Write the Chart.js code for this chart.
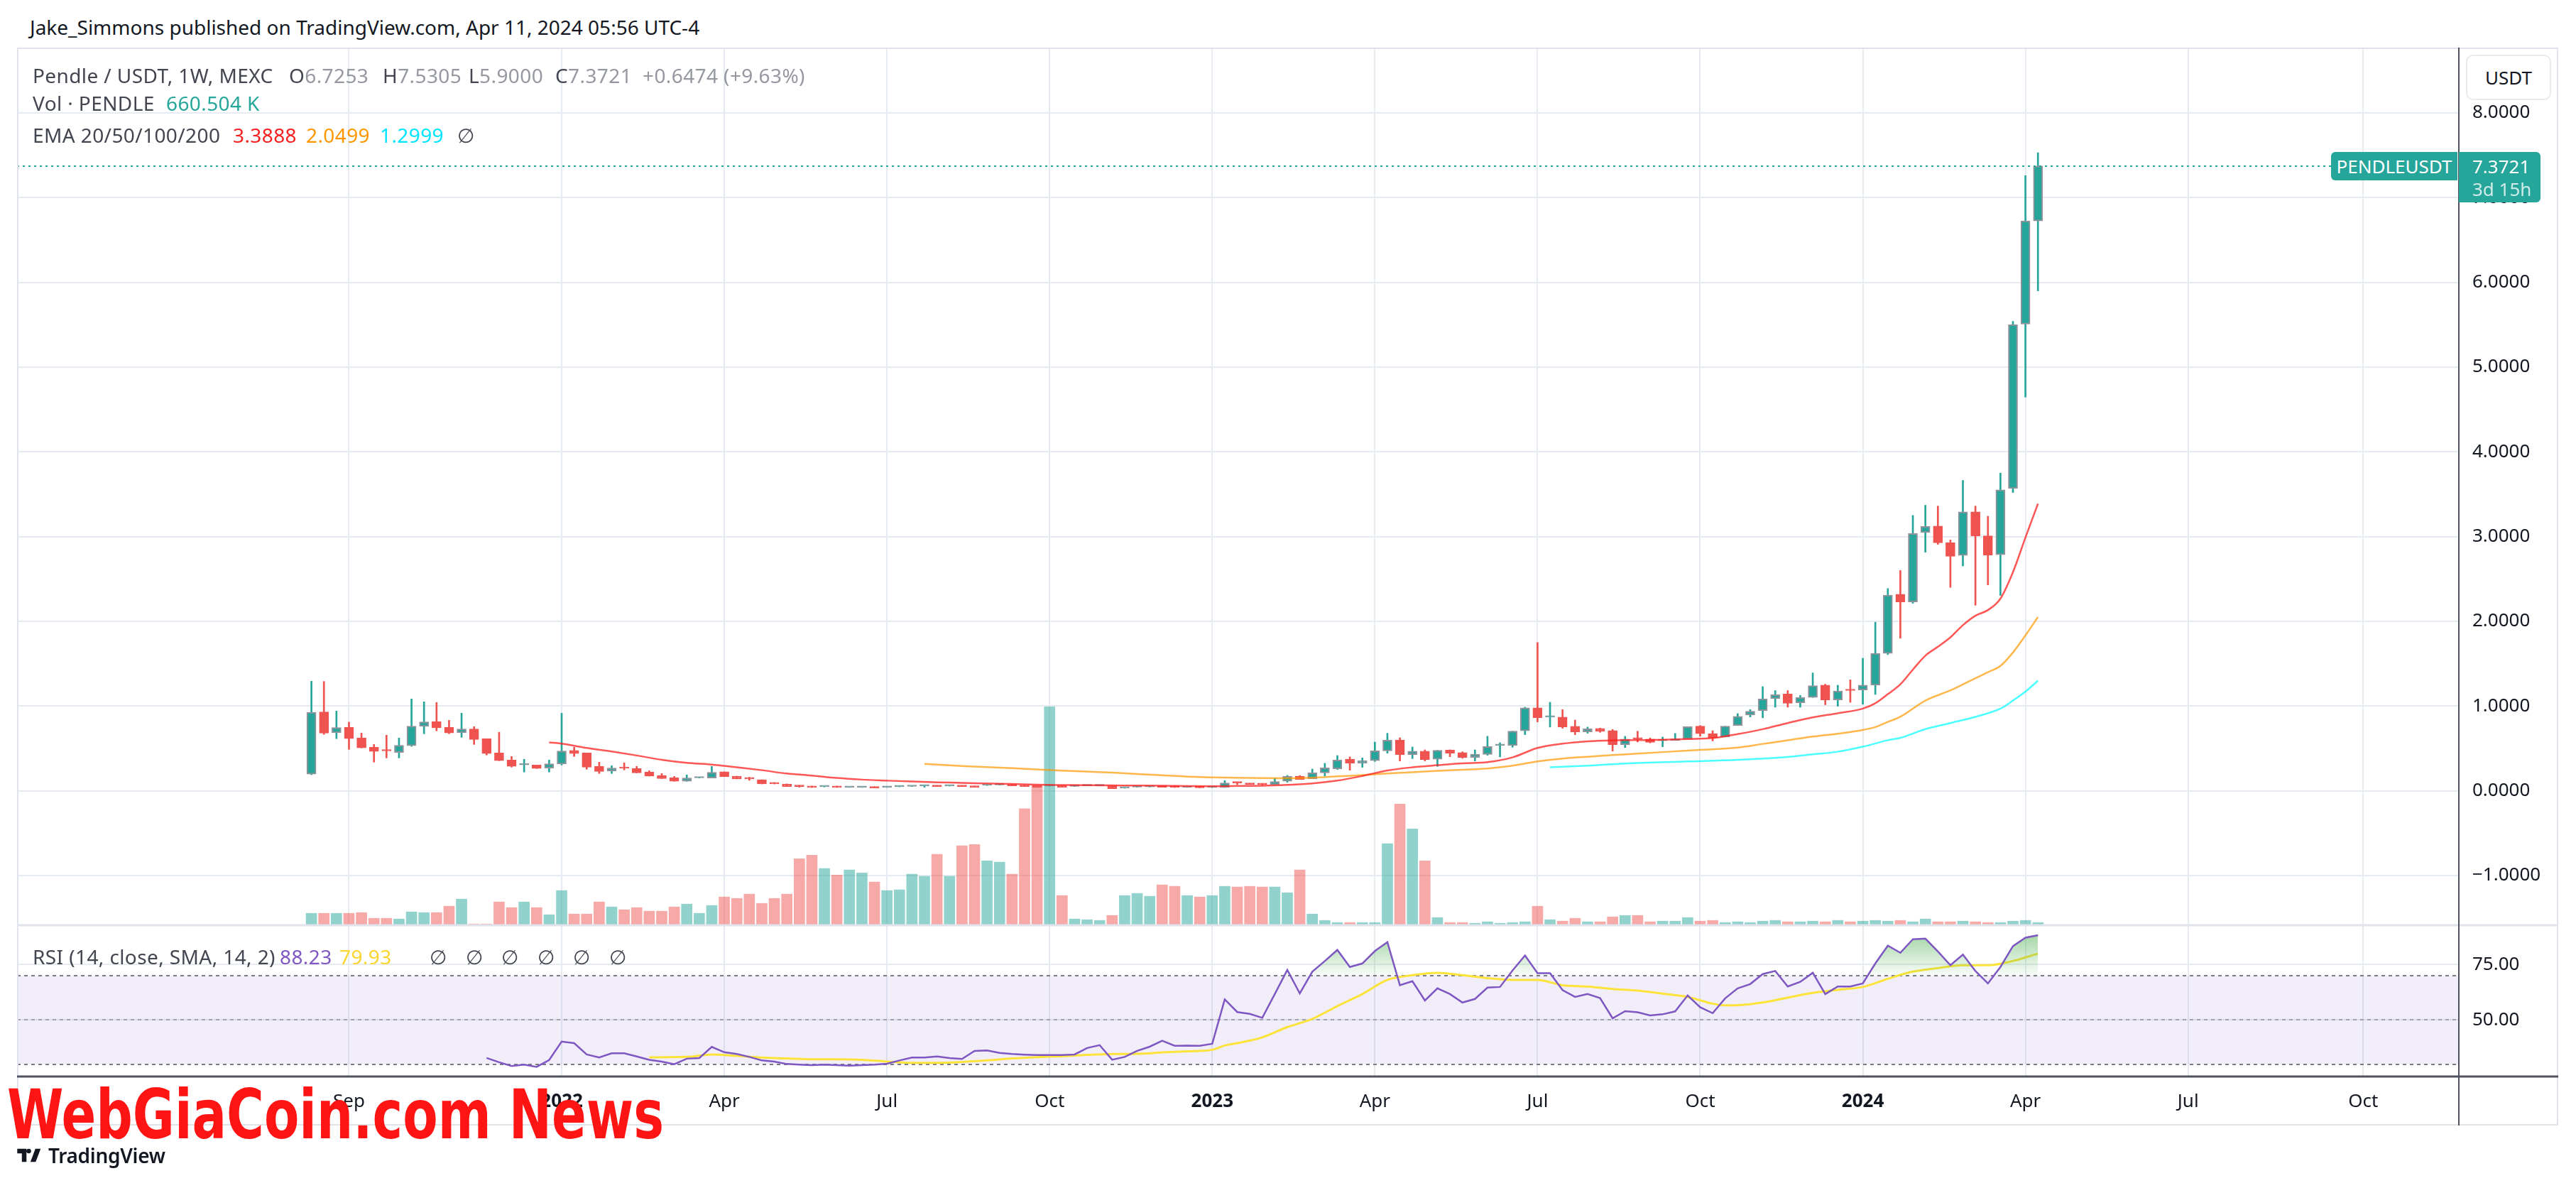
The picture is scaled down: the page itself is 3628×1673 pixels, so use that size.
<!DOCTYPE html>
<html lang="en">
<head>
  <meta charset="UTF-8" />
  <title>Pendle / USDT, 1W, MEXC</title>
  <script src="https://cdn.jsdelivr.net/npm/chart.js@4.4.0/dist/chart.umd.min.js"></script>
  <style>
    body { margin: 0; width: 3628px; height: 1673px; background: #fff; position: relative; overflow: hidden;
           font-family: "Noto Sans", sans-serif; color: #131722; }
    #frame { position: absolute; left: 24px; top: 67px; width: 3579px; height: 1518px; }
    #header { position: absolute; left: 42px; top: 20px; height: 36px; line-height: 36px; font-size: 28px; color: #131722; white-space: pre; }
    .lg { position: absolute; left: 46px; width: 1200px; height: 38px; line-height: 38px; font-size: 28px; letter-spacing: 0.4px;
          color: #434651; white-space: pre; z-index: 5; }
    .lg > span { position: absolute; top: 0; }
    .lg .v { color: #9598a1; }
    #usdt { position: absolute; left: 3473px; top: 77px; width: 116px; height: 60px; border: 2px solid #e8eaf0; border-radius: 10px;
            font-size: 26px; line-height: 60px; text-align: center; color: #131722; background: #fff; z-index: 5; }
    #symLabel { position: absolute; left: 3283px; width: 178px; height: 40px; line-height: 40px; background: #26a69a; color: #fff;
                font-size: 26px; text-align: center; border-radius: 6px 0 0 6px; z-index: 5; }
    #priceLabel { position: absolute; left: 3463px; width: 115px; height: 71px; background: #26a69a; color: #fff;
                  font-size: 26px; border-radius: 0 6px 6px 0; z-index: 5; }
    #priceLabel div { position: absolute; left: 19px; height: 32px; line-height: 32px; }
    #priceLabel .sub { color: rgba(255,255,255,0.78); }
    #watermark { position: absolute; left: 10px; top: 1522px; font-family: "Liberation Sans Narrow", "DejaVu Sans Condensed", sans-serif;
                 font-weight: bold; font-size: 96px; line-height: 1; color: #ff1414; white-space: pre; z-index: 6; transform-origin: left top; }
    #tvlogo { position: absolute; left: 22px; top: 1610px; height: 34px; display: flex; align-items: center; z-index: 6; }
    #tvlogo span { font-size: 28px; font-weight: 600; color: #131722; margin-left: 8px; letter-spacing: -0.3px; }
  </style>
</head>
<body>
  <div id="header">Jake_Simmons published on TradingView.com, Apr 11, 2024 05:56 UTC-4</div>
  <div id="frame"><canvas id="chart" width="3579" height="1518"></canvas></div>

  <div class="lg" style="top:87px">
    <span style="left:0">Pendle / USDT, 1W, MEXC</span>
    <span style="left:361px">O<span class="v">6.7253</span></span>
    <span style="left:493px">H<span class="v">7.5305</span></span>
    <span style="left:614px">L<span class="v">5.9000</span></span>
    <span style="left:736px">C<span class="v">7.3721</span></span>
    <span style="left:859px"><span class="v">+0.6474 (+9.63%)</span></span>
  </div>
  <div class="lg" style="top:126px">
    <span style="left:0">Vol · PENDLE</span>
    <span style="left:188px; color:#26a69a">660.504 K</span>
  </div>
  <div class="lg" style="top:171px">
    <span style="left:0">EMA 20/50/100/200</span>
    <span style="left:282px; color:#f72020">3.3888</span>
    <span style="left:385px; color:#ff9800">2.0499</span>
    <span style="left:489px; color:#00e5ff">1.2999</span>
    <span style="left:598px">∅</span>
  </div>
  <div class="lg" style="top:1328px">
    <span style="left:0">RSI (14, close, SMA, 14, 2)</span>
    <span style="left:348px; color:#7e57c2">88.23</span>
    <span style="left:432px; color:#fbd52f">79.93</span>
    <span style="left:559px">∅</span>
    <span style="left:610px">∅</span>
    <span style="left:660px">∅</span>
    <span style="left:711px">∅</span>
    <span style="left:761px">∅</span>
    <span style="left:812px">∅</span>
  </div>

  <div id="usdt">USDT</div>
  <div id="symLabel">PENDLEUSDT</div>
  <div id="priceLabel"><div style="top:4px">7.3721</div><div class="sub" style="top:36px">3d 15h</div></div>

  <div id="watermark">WebGiaCoin.com News</div>
  <div id="tvlogo">
    <svg width="38" height="26" viewBox="0 0 36 28"><path d="M14 24H7V11H0V4h14v20zM28 24h-8l7.5-20h8L28 24zM21 7.5a3.5 3.5 0 1 1-7 0 3.5 3.5 0 0 1 7 0z" fill="#131722"/></svg>
    <span>TradingView</span>
  </div>

  <script>
    // weekly candles, first bar = week of 2021-08-16
    const firstWeek = '2021-08-16';

    const opens = [
      0.196, 0.93, 0.684, 0.749, 0.623, 0.514, 0.48, 0.453, 0.531, 0.76,
      0.816, 0.749, 0.684, 0.729, 0.615, 0.447, 0.363, 0.305, 0.304, 0.268,
      0.316, 0.475, 0.447, 0.288, 0.232, 0.279, 0.263, 0.221, 0.179, 0.154,
      0.112, 0.152, 0.151, 0.224, 0.173, 0.156, 0.131, 0.098, 0.081, 0.064,
      0.056, 0.048, 0.056, 0.041, 0.041, 0.047, 0.041, 0.048, 0.051, 0.056,
      0.061, 0.057, 0.061, 0.056, 0.064, 0.069, 0.076, 0.064, 0.061, 0.057,
      0.061, 0.052, 0.059, 0.059, 0.059, 0.032, 0.043, 0.046, 0.056, 0.056,
      0.041, 0.053, 0.040, 0.040, 0.100, 0.087, 0.087, 0.070, 0.112, 0.173,
      0.142, 0.212, 0.260, 0.374, 0.327, 0.355, 0.472, 0.600, 0.427, 0.467,
      0.372, 0.483, 0.450, 0.394, 0.430, 0.535, 0.534, 0.707, 0.978, 0.870,
      0.869, 0.760, 0.696, 0.735, 0.710, 0.545, 0.623, 0.611, 0.590, 0.595,
      0.611, 0.762, 0.675, 0.635, 0.770, 0.894, 0.946, 1.087, 1.142, 1.039,
      1.102, 1.246, 1.073, 1.194, 1.189, 1.246, 1.621, 2.320, 2.228, 3.047,
      3.124, 2.927, 2.777, 3.292, 3.008, 2.787, 3.567, 5.507, 6.7253
    ];
    const highs = [
      1.293, 1.29, 0.941, 0.81, 0.682, 0.547, 0.656, 0.623, 1.084, 1.05,
      1.042, 0.832, 0.916, 0.757, 0.615, 0.691, 0.405, 0.372, 0.304, 0.363,
      0.916, 0.514, 0.447, 0.338, 0.296, 0.33, 0.288, 0.237, 0.204, 0.17,
      0.187, 0.156, 0.288, 0.224, 0.173, 0.16, 0.131, 0.098, 0.081, 0.064,
      0.056, 0.052, 0.056, 0.044, 0.044, 0.047, 0.044, 0.051, 0.054, 0.06,
      0.061, 0.059, 0.061, 0.056, 0.067, 0.072, 0.076, 0.064, 0.061, 0.06,
      0.061, 0.055, 0.062, 0.062, 0.059, 0.035, 0.05, 0.048, 0.056, 0.056,
      0.044, 0.053, 0.044, 0.12, 0.10, 0.087, 0.087, 0.148, 0.182, 0.18,
      0.257, 0.324, 0.416, 0.40, 0.388, 0.575, 0.679, 0.626, 0.517, 0.483,
      0.478, 0.483, 0.46, 0.483, 0.643, 0.567, 0.704, 0.986, 1.749, 1.045,
      0.958, 0.835, 0.752, 0.74, 0.724, 0.643, 0.703, 0.623, 0.634, 0.677,
      0.756, 0.77, 0.709, 0.762, 0.911, 0.958, 1.229, 1.182, 1.182, 1.125,
      1.391, 1.258, 1.246, 1.31, 1.564, 1.99, 2.387, 2.6, 3.25, 3.37,
      3.36, 2.96, 3.663, 3.36, 3.24, 3.75, 5.54, 7.259, 7.5305
    ];
    const lows = [
      0.19, 0.665, 0.615, 0.489, 0.506, 0.338, 0.388, 0.388, 0.525, 0.673,
      0.707, 0.673, 0.631, 0.547, 0.422, 0.355, 0.279, 0.221, 0.263, 0.221,
      0.304, 0.405, 0.254, 0.204, 0.204, 0.246, 0.212, 0.173, 0.145, 0.112,
      0.112, 0.150, 0.151, 0.168, 0.14, 0.123, 0.081, 0.081, 0.05, 0.042,
      0.039, 0.045, 0.039, 0.040, 0.040, 0.034, 0.040, 0.047, 0.05, 0.042,
      0.05, 0.056, 0.05, 0.042, 0.062, 0.068, 0.059, 0.05, 0.042, 0.055,
      0.042, 0.05, 0.058, 0.058, 0.025, 0.031, 0.042, 0.045, 0.042, 0.039,
      0.040, 0.036, 0.039, 0.04, 0.073, 0.076, 0.068, 0.07, 0.10, 0.134,
      0.142, 0.176, 0.251, 0.243, 0.277, 0.346, 0.444, 0.352, 0.38, 0.352,
      0.288, 0.402, 0.383, 0.352, 0.419, 0.40, 0.514, 0.662, 0.813, 0.752,
      0.738, 0.662, 0.679, 0.69, 0.469, 0.511, 0.576, 0.565, 0.52, 0.595,
      0.611, 0.644, 0.588, 0.635, 0.77, 0.871, 0.861, 0.986, 0.986, 0.986,
      1.102, 1.015, 0.998, 1.044, 1.021, 1.137, 1.607, 1.8, 2.213, 2.816,
      2.908, 2.40, 2.653, 2.19, 2.43, 2.306, 3.52, 4.646, 5.9
    ];
    const closes = [
      0.927, 0.68, 0.746, 0.615, 0.506, 0.464, 0.47, 0.536, 0.763, 0.813,
      0.743, 0.682, 0.729, 0.606, 0.439, 0.355, 0.288, 0.31, 0.263, 0.318,
      0.469, 0.439, 0.279, 0.229, 0.268, 0.265, 0.212, 0.173, 0.145, 0.112,
      0.151, 0.154, 0.218, 0.168, 0.14, 0.14, 0.081, 0.081, 0.05, 0.05,
      0.039, 0.05, 0.039, 0.042, 0.042, 0.034, 0.042, 0.05, 0.053, 0.059,
      0.05, 0.059, 0.05, 0.042, 0.065, 0.07, 0.059, 0.05, 0.042, 0.059,
      0.042, 0.053, 0.061, 0.061, 0.025, 0.034, 0.045, 0.047, 0.042, 0.039,
      0.042, 0.036, 0.042, 0.093, 0.092, 0.076, 0.073, 0.109, 0.17, 0.134,
      0.212, 0.271, 0.363, 0.327, 0.355, 0.472, 0.598, 0.427, 0.467, 0.369,
      0.478, 0.444, 0.394, 0.433, 0.522, 0.537, 0.704, 0.978, 0.863, 0.872,
      0.754, 0.696, 0.732, 0.701, 0.545, 0.611, 0.611, 0.571, 0.60, 0.611,
      0.756, 0.675, 0.626, 0.762, 0.879, 0.94, 1.085, 1.133, 1.033, 1.102,
      1.24, 1.073, 1.177, 1.183, 1.246, 1.621, 2.309, 2.228, 3.036, 3.12,
      2.927, 2.767, 3.292, 3.008, 2.782, 3.552, 5.502, 6.7247, 7.3721
    ];
    // volume, millions of PENDLE
    const volumes = [
      2.81, 2.81, 2.81, 2.81, 2.97, 1.65, 1.65, 1.49, 3.14, 2.97,
      2.97, 4.46, 6.11, 0.33, 0.33, 5.45, 4.13, 5.45, 4.13, 2.48,
      8.09, 2.64, 2.64, 5.45, 4.29, 3.63, 4.13, 3.30, 3.30, 4.29,
      4.95, 2.81, 4.62, 6.60, 6.27, 7.26, 5.12, 6.27, 7.26, 15.5,
      16.3, 13.2, 11.7, 12.9, 12.2, 10.1, 8.09, 8.25, 11.9, 11.4,
      16.5, 11.4, 18.5, 18.8, 15.0, 14.7, 11.9, 27.1, 32.5, 50.8,
      6.93, 1.49, 1.32, 1.16, 2.31, 6.93, 7.43, 6.77, 9.41, 9.08,
      6.93, 6.60, 6.93, 9.08, 8.91, 9.08, 8.91, 8.91, 7.59, 12.9,
      2.64, 1.16, 0.66, 0.66, 0.66, 0.66, 19.0, 28.2, 22.4, 15.0,
      1.82, 0.66, 0.66, 0.50, 0.83, 0.50, 0.66, 0.83, 4.46, 1.32,
      0.99, 1.65, 0.83, 0.83, 1.98, 2.31, 2.31, 0.83, 0.99, 0.99,
      1.82, 0.99, 1.16, 0.66, 0.83, 0.66, 0.99, 1.16, 0.83, 0.83,
      0.99, 0.83, 1.16, 0.83, 0.99, 1.16, 0.99, 1.16, 0.83, 1.49,
      0.83, 0.83, 0.99, 0.83, 0.66, 0.66, 0.99, 1.16, 0.66
    ];

    // EMA lines at these weeks
    const ema20Weeks = [19, 20, 22, 24, 26, 28, 30, 32, 34, 36, 38, 40, 42, 44, 46, 48, 50, 52, 54, 56, 58, 60,
      62, 64, 66, 68, 70, 72, 74, 76, 78, 80, 82, 84, 86, 88, 90, 92, 94, 96, 98, 100, 102, 104, 106, 108, 110,
      112, 114, 116, 118, 120, 122, 124, 125, 126, 127, 128, 129, 130, 131, 132, 133, 134, 135, 136, 137, 138];
    const ema20Values = [0.57, 0.556, 0.506, 0.464, 0.417, 0.366, 0.33, 0.31, 0.277, 0.243, 0.204, 0.18,
      0.151, 0.132, 0.12, 0.109, 0.10, 0.094, 0.086, 0.08, 0.072, 0.068,
      0.065, 0.063, 0.062, 0.06, 0.055, 0.053, 0.058, 0.06, 0.07, 0.087,
      0.12, 0.175, 0.24, 0.277, 0.302, 0.324, 0.338, 0.394, 0.506, 0.556,
      0.584, 0.595, 0.598, 0.602, 0.611, 0.623, 0.669, 0.727, 0.80, 0.866,
      0.915, 0.97, 1.033, 1.14, 1.257, 1.43, 1.595, 1.70, 1.811, 1.955, 2.066, 2.133, 2.268, 2.58, 2.99, 3.3888];
    const ema50Weeks = [49, 52, 56, 60, 64, 68, 71, 74, 76, 78, 80, 82, 84, 86, 88, 90, 92, 94, 96, 98, 100, 102,
      104, 106, 110, 114, 116, 118, 120, 122, 124, 125, 126, 127, 129, 131, 133, 134, 135, 136, 137, 138];
    const ema50Values = [0.318, 0.292, 0.267, 0.238, 0.214, 0.183, 0.162, 0.154, 0.15, 0.148, 0.154, 0.17,
      0.185, 0.204, 0.218, 0.235, 0.249, 0.263, 0.296, 0.346, 0.38, 0.402, 0.422, 0.438, 0.475, 0.51, 0.553,
      0.596, 0.64, 0.674, 0.717, 0.752, 0.813, 0.874, 1.065, 1.185, 1.329, 1.40, 1.474, 1.632, 1.834, 2.0499];
    const ema100Weeks = [99, 102, 105, 110, 114, 118, 120, 122, 124, 126, 127, 129, 131, 133, 135, 136, 137, 138];
    const ema100Values = [0.277, 0.296, 0.322, 0.346, 0.366, 0.40, 0.43, 0.461, 0.52, 0.597, 0.625, 0.728,
      0.80, 0.873, 0.969, 1.065, 1.17, 1.2999];

    // RSI(14), one value per week from week 14
    const rsiStart = 14;
    const rsiValues = [
      32.9, 31.0, 29.3, 29.9, 28.9, 32.0, 40.3, 39.6, 34.5, 33.1,
      35.0, 35.0, 33.6, 32.1, 31.3, 30.1, 32.6, 32.9, 37.9, 35.5,
      34.7, 33.4, 31.8, 31.3, 30.2, 29.9, 29.7, 29.9, 29.7, 29.4,
      29.7, 29.9, 30.3, 31.8, 33.1, 33.1, 33.6, 32.9, 32.5, 36.1,
      36.3, 35.2, 34.7, 34.4, 34.2, 34.2, 34.2, 34.5, 37.4, 38.7,
      32.1, 33.4, 36.1, 38.0, 40.7, 38.4, 38.5, 38.4, 39.3, 59.3,
      53.6, 52.8, 51.0, 61.7, 72.6, 62.0, 71.8, 76.6, 81.6, 73.9,
      75.5, 81.1, 85.1, 65.7, 67.5, 58.8, 64.3, 61.7, 57.9, 59.5,
      64.6, 64.9, 72.3, 79.1, 71.1, 71.1, 63.5, 60.4, 61.7, 59.9,
      50.8, 54.0, 53.5, 52.1, 52.6, 53.9, 61.1, 55.8, 53.1, 59.8,
      64.3, 66.2, 70.7, 72.1, 65.1, 67.2, 71.3, 61.7, 65.1, 65.1,
      66.5, 75.5, 83.5, 80.3, 86.4, 86.7, 80.9, 74.7, 79.5, 72.1,
      66.5, 73.9, 83.3, 87.1, 88.23
    ];
    const rsiSmaWeeks = [27, 30, 32, 34, 36, 38, 40, 42, 44, 46, 48, 50, 52, 54, 56, 58, 60, 62, 64, 66, 68, 70, 72,
      73, 74, 76, 78, 80, 82, 84, 86, 88, 90, 92, 94, 96, 98, 100, 102, 104, 106, 108, 110, 112, 113,
      114, 116, 118, 120, 122, 124, 126, 128, 130, 132, 134, 136, 138];
    const rsiSmaValues = [33.2, 33.4, 34.5, 33.9, 33.1, 32.7, 32.3, 32.3, 32.1, 31.3, 30.7, 30.7, 31.1, 31.8,
      32.7, 33.3, 33.7, 34.3, 34.7, 34.8, 35.4, 35.9, 36.6, 38.5, 39.6, 42.2, 46.8, 50.5, 56.3, 61.7, 68.1,
      70.2, 71.3, 70.2, 68.9, 68.1, 68.1, 65.7, 65.1, 64.0, 63.3, 61.9, 60.4, 57.4, 56.6, 56.7, 57.9, 60.1,
      62.2, 63.6, 64.9, 68.6, 71.8, 73.4, 74.7, 74.7, 76.6, 79.93];
    const rsiLevels = [70, 50, 30];

    const tickDates = ['2021-09-06', '2022-01-03', '2022-04-04', '2022-07-04', '2022-10-03', '2023-01-02',
      '2023-04-03', '2023-07-03', '2023-10-02', '2024-01-01', '2024-04-01', '2024-07-01', '2024-10-07'];
    const tickLabels = ['Sep', '2022', 'Apr', 'Jul', 'Oct', '2023', 'Apr', 'Jul', 'Oct', '2024', 'Apr', 'Jul', 'Oct'];
    const priceTicks = [-1, 0, 1, 2, 3, 4, 5, 6, 7, 8];
    const rsiTicks = [50, 75];

    const TEAL = '#26a69a', RED = '#ef5350', EDGE = '#8f929b';
    const GRID = '#e6ebf1';
    const weekOf = d => (Date.parse(d) - Date.parse(firstWeek)) / (7 * 86400000);
    const tickWeeks = tickDates.map(weekOf);
    const idx = opens.map((_, i) => i);
    const up = i => closes[i] >= opens[i];
    const pairs = (ws, vs) => ws.map((w, k) => ({ x: w, y: vs[k] }));
    const lastClose = closes[closes.length - 1];

    Chart.defaults.font.family = '"Noto Sans", sans-serif';
    Chart.defaults.font.size = 26;
    Chart.defaults.color = '#131722';

    const paneDecor = {
      id: 'paneDecor',
      beforeDatasetsDraw(chart) {
        const { ctx, chartArea: a, scales: { rsi } } = chart;
        const y70 = rsi.getPixelForValue(rsiLevels[0]);
        const y30 = rsi.getPixelForValue(rsiLevels[2]);
        ctx.save();
        ctx.fillStyle = 'rgba(126,87,194,0.1)';
        ctx.fillRect(a.left, y70, a.right - a.left, y30 - y70);
        ctx.setLineDash([5, 5]);
        ctx.lineWidth = 2;
        rsiLevels.forEach((v, k) => {
          const py = Math.round(rsi.getPixelForValue(v));
          ctx.strokeStyle = k === 1 ? 'rgba(120,123,134,0.6)' : '#787b86';
          ctx.beginPath(); ctx.moveTo(a.left, py); ctx.lineTo(a.right, py); ctx.stroke();
        });
        ctx.restore();
      },
      afterDatasetsDraw(chart) {
        const { ctx, chartArea: a, scales: { y } } = chart;
        const py = Math.round(y.getPixelForValue(lastClose));
        ctx.save();
        ctx.strokeStyle = TEAL; ctx.lineWidth = 2; ctx.setLineDash([3, 5]);
        ctx.beginPath(); ctx.moveTo(a.left, py); ctx.lineTo(a.right, py); ctx.stroke();
        ctx.restore();
      },
      afterDraw(chart) {
        const { ctx, chartArea: a, scales: { rsi }, width: W, height: H } = chart;
        ctx.save();
        ctx.strokeStyle = '#e0e3eb'; ctx.lineWidth = 2;
        ctx.strokeRect(1, 1, W - 2, H - 2);
        ctx.lineWidth = 3;
        ctx.beginPath(); ctx.moveTo(0, rsi.top); ctx.lineTo(W, rsi.top); ctx.stroke();
        ctx.strokeStyle = '#50535e';
        ctx.lineWidth = 2;
        ctx.beginPath(); ctx.moveTo(a.right, 0); ctx.lineTo(a.right, H); ctx.stroke();
        ctx.lineWidth = 3;
        ctx.beginPath(); ctx.moveTo(0, a.bottom); ctx.lineTo(W, a.bottom); ctx.stroke();
        ctx.restore();
      }
    };

    const rsiFill = c => {
      const s = c.chart.scales.rsi;
      if (!s || !s.height) return 'rgba(76,175,80,0.3)';
      const g = c.chart.ctx.createLinearGradient(0, s.getPixelForValue(90), 0, s.getPixelForValue(70));
      g.addColorStop(0, 'rgba(76,175,80,0.55)');
      g.addColorStop(1, 'rgba(76,175,80,0.03)');
      return g;
    };

    const chart = new Chart(document.getElementById('chart'), {
      type: 'bar',
      data: {
        datasets: [
          {
            label: 'Wicks', data: idx.map(i => ({ x: i, y: [lows[i], highs[i]] })),
            backgroundColor: idx.map(i => up(i) ? TEAL : RED),
            barThickness: 2, grouped: false, yAxisID: 'y', order: 6
          },
          {
            label: 'Candles', data: idx.map(i => ({ x: i, y: [opens[i], closes[i]] })),
            backgroundColor: idx.map(i => up(i) ? TEAL : RED),
            borderColor: idx.map(i => up(i) ? EDGE : RED),
            borderWidth: 2, borderSkipped: false, minBarLength: 2,
            barThickness: 13, grouped: false, yAxisID: 'y', order: 5
          },
          {
            label: 'Vol', data: idx.map(i => ({ x: i, y: volumes[i] })),
            backgroundColor: idx.map(i => up(i) ? 'rgba(38,166,154,0.5)' : 'rgba(239,83,80,0.5)'),
            barThickness: 15, grouped: false, yAxisID: 'vol', order: 3
          },
          {
            type: 'line', label: 'EMA 100', data: pairs(ema100Weeks, ema100Values),
            borderColor: 'rgba(0,255,255,0.7)', borderWidth: 2.5, pointRadius: 0,
            cubicInterpolationMode: 'monotone', yAxisID: 'y', order: 2
          },
          {
            type: 'line', label: 'EMA 50', data: pairs(ema50Weeks, ema50Values),
            borderColor: 'rgba(255,152,0,0.7)', borderWidth: 2.5, pointRadius: 0,
            cubicInterpolationMode: 'monotone', yAxisID: 'y', order: 2
          },
          {
            type: 'line', label: 'EMA 20', data: pairs(ema20Weeks, ema20Values),
            borderColor: 'rgba(255,30,30,0.75)', borderWidth: 2.5, pointRadius: 0,
            cubicInterpolationMode: 'monotone', yAxisID: 'y', order: 1
          },
          {
            type: 'line', label: 'RSI-based MA', data: pairs(rsiSmaWeeks, rsiSmaValues),
            borderColor: '#fbe33a', borderWidth: 3, pointRadius: 0,
            cubicInterpolationMode: 'monotone', yAxisID: 'rsi', order: 1
          },
          {
            type: 'line', label: 'RSI', data: rsiValues.map((v, k) => ({ x: rsiStart + k, y: v })),
            borderColor: '#7e57c2', borderWidth: 2.5, pointRadius: 0, tension: 0,
            backgroundColor: rsiFill,
            fill: { target: { value: 70 }, below: 'rgba(0,0,0,0)' },
            yAxisID: 'rsi', order: 0
          }
        ]
      },
      options: {
        responsive: false, animation: false, devicePixelRatio: 1,
        layout: { padding: 0 },
        plugins: { legend: { display: false }, tooltip: { enabled: false } },
        scales: {
          x: {
            type: 'linear', min: -23.53, max: 171.64, offset: false, bounds: 'data',
            grid: { color: GRID, lineWidth: 2, drawTicks: false, offset: false },
            border: { display: false },
            ticks: {
              padding: 20, maxRotation: 0, autoSkip: false,
              callback: (v, i) => tickLabels[i],
              font: c => ({ size: 26, weight: /^\d{4}$/.test(tickLabels[c.index] || '') ? 'bold' : 'normal' })
            },
            afterBuildTicks: s => { s.ticks = tickWeeks.map(v => ({ value: v })); },
            afterFit: s => { s.height = 69; s.paddingLeft = 0; s.paddingRight = 0; }
          },
          y: {
            position: 'right', stack: 'panes', stackWeight: 1236, min: -1.587, max: 8.771, bounds: 'data',
            grid: { color: GRID, lineWidth: 2, drawTicks: false },
            border: { display: false },
            ticks: { padding: 19, callback: v => (v < 0 ? '\u2212' : '') + Math.abs(v).toFixed(4) },
            afterBuildTicks: s => { s.ticks = priceTicks.map(v => ({ value: v })); },
            afterFit: s => { s.width = 140; s.paddingTop = 0; s.paddingBottom = 0; }
          },
          rsi: {
            position: 'right', stack: 'panes', stackWeight: 213, min: 24.56, max: 92.7, bounds: 'data',
            grid: { color: GRID, lineWidth: 2, drawTicks: false },
            border: { display: false },
            ticks: { padding: 19, callback: v => v.toFixed(2) },
            afterBuildTicks: s => { s.ticks = rsiTicks.map(v => ({ value: v })); },
            afterFit: s => { s.width = 140; s.paddingTop = 0; s.paddingBottom = 0; }
          },
          vol: { position: 'right', display: false, min: -35.1, max: 203.9 }
        }
      },
      plugins: [paneDecor]
    });

    // price tag next to the axis
    const py = 67 + chart.scales.y.getPixelForValue(lastClose);
    document.getElementById('symLabel').style.top = (py - 20) + 'px';
    document.getElementById('priceLabel').style.top = (py - 20) + 'px';

    // stretch the watermark to its width in the screenshot
    const wm = document.getElementById('watermark');
    wm.style.transform = 'scaleX(' + (925 / wm.getBoundingClientRect().width) + ')';
  </script>
</body>
</html>
